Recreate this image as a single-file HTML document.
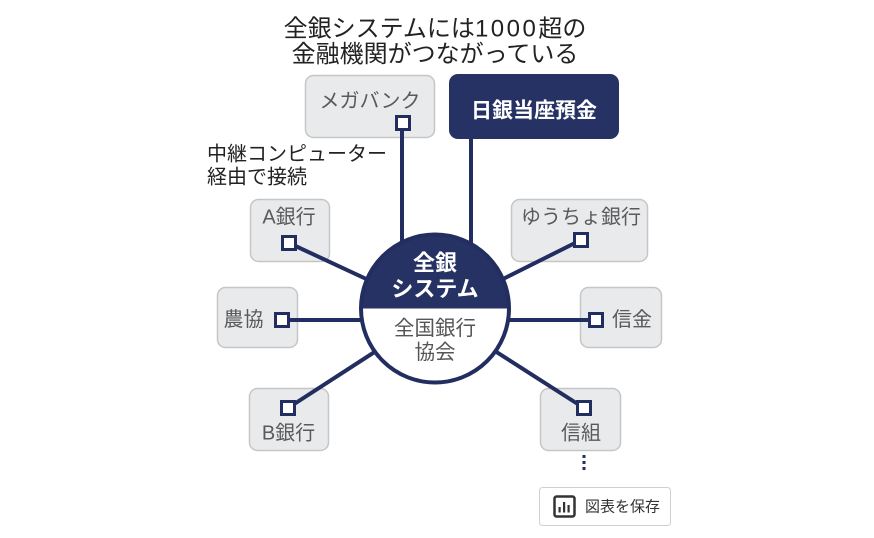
<!DOCTYPE html>
<html><head><meta charset="utf-8">
<style>
html,body{margin:0;padding:0;background:#fff;}
svg{display:block;}
text{font-family:"Liberation Sans","Noto Sans CJK JP",sans-serif;}
</style></head>
<body>
<svg width="874" height="538" viewBox="0 0 874 538" xmlns="http://www.w3.org/2000/svg">
<rect width="874" height="538" fill="#fff"/>
<!-- title -->
<text x="435" y="36.5" font-size="24" fill="#222" text-anchor="middle">全銀システムには<tspan letter-spacing="2.5">1000</tspan>超の</text>
<text x="435" y="62" font-size="24" fill="#222" text-anchor="middle">金融機関がつながっている</text>

<!-- gray boxes -->
<g fill="#e9eaec" stroke="#c6c6c6" stroke-width="1.5">
<rect x="305.5" y="75.5" width="129" height="62" rx="8"/>
<rect x="250.5" y="199.5" width="79" height="62" rx="8"/>
<rect x="511.5" y="199.5" width="136" height="62" rx="8"/>
<rect x="217.5" y="287.5" width="80" height="60" rx="8"/>
<rect x="580.5" y="287.5" width="81" height="60" rx="8"/>
<rect x="249.5" y="388.5" width="79" height="62" rx="8"/>
<rect x="540.5" y="388.5" width="80" height="62" rx="8"/>
</g>
<rect x="449" y="74" width="170" height="65" rx="9" fill="#263264"/>

<!-- box labels -->
<g font-size="20" fill="#5a5a5a" text-anchor="middle">
<text x="370" y="107.6">メガバンク</text>
<text x="289" y="223.6">A銀行</text>
<text x="581" y="223.6">ゆうちょ銀行</text>
<text x="243.5" y="326">農協</text>
<text x="632" y="326">信金</text>
<text x="288.5" y="439.6">B銀行</text>
<text x="581" y="439.6">信組</text>
</g>
<text x="534" y="117.5" font-size="21" font-weight="bold" fill="#fff" text-anchor="middle">日銀当座預金</text>

<text x="207" y="160.6" font-size="20" fill="#222">中継コンピューター</text>
<text x="207" y="183.6" font-size="20" fill="#222">経由で接続</text>

<!-- connectors -->
<g stroke="#222d60" stroke-width="4" fill="none">
<line x1="402" y1="131" x2="402" y2="260"/>
<line x1="471" y1="139" x2="471" y2="260"/>
<line x1="289" y1="243" x2="400" y2="294.7"/>
<line x1="581" y1="240" x2="470" y2="295.5"/>
<line x1="282" y1="320" x2="400" y2="320"/>
<line x1="596" y1="320" x2="480" y2="320"/>
<line x1="288" y1="408" x2="420" y2="322.6"/>
<line x1="584" y1="408" x2="450" y2="322.3"/>
</g>

<!-- squares -->
<g fill="#fff" stroke="#222d60" stroke-width="3">
<rect x="396.5" y="116.5" width="13" height="13"/>
<rect x="282.5" y="236.5" width="13" height="13"/>
<rect x="574.5" y="233.5" width="13" height="13"/>
<rect x="275.5" y="313.5" width="13" height="13"/>
<rect x="589.5" y="313.5" width="13" height="13"/>
<rect x="281.5" y="401.5" width="13" height="13"/>
<rect x="577.5" y="401.5" width="13" height="13"/>
</g>

<!-- circle -->
<circle cx="435" cy="308.5" r="74" fill="#fff"/>
<path d="M361 308.5 A74 74 0 0 1 509 308.5 Z" fill="#263264"/>
<circle cx="435" cy="308.5" r="74" fill="none" stroke="#222d60" stroke-width="4"/>
<text x="435" y="270.4" font-size="22" font-weight="bold" fill="#fff" text-anchor="middle">全銀</text>
<text x="435" y="296.4" font-size="22" font-weight="bold" fill="#fff" text-anchor="middle">システム</text>
<text x="435" y="334.8" font-size="20.5" fill="#555" text-anchor="middle">全国銀行</text>
<text x="435" y="358.8" font-size="20.5" fill="#555" text-anchor="middle">協会</text>

<!-- dots -->
<g fill="#222d60">
<rect x="582.5" y="455" width="3" height="3"/>
<rect x="582.5" y="461" width="3" height="3"/>
<rect x="582.5" y="467" width="3" height="3"/>
</g>

<!-- save button -->
<rect x="539.5" y="487.5" width="131" height="38" rx="3" fill="#fff" stroke="#d0d0d0" stroke-width="1"/>
<rect x="554.5" y="496.5" width="20" height="20" rx="2" fill="none" stroke="#333" stroke-width="2.5"/>
<g fill="#333">
<rect x="558.5" y="507" width="2.2" height="5.5"/>
<rect x="563" y="502" width="2.2" height="10.5"/>
<rect x="567.5" y="505" width="2.2" height="7.5"/>
</g>
<text x="585" y="511.7" font-size="15" fill="#333">図表を保存</text>
</svg>
</body></html>
